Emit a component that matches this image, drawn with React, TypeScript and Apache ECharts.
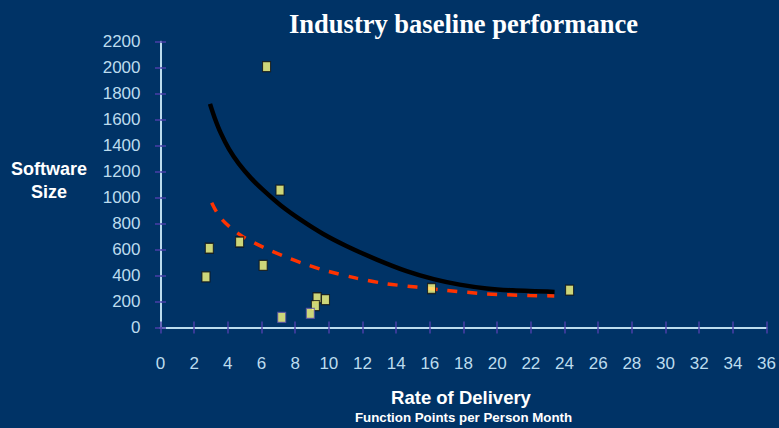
import React, { useEffect, useRef } from "react";
import * as echarts from "echarts";

const xTicks = [0, 36, 2];
const yTicks = [0, 2200, 200];

const pointX = [6.3, 7.1, 2.9, 2.7, 4.7, 6.1, 9.3, 9.8, 9.2, 8.9, 7.2, 24.3, 16.1];
const pointY = [2008, 1058, 610, 390, 658, 478, 229, 214, 168, 109, 78, 288, 300];

const industryX = [2.94, 3.23, 3.59, 4.07, 4.66, 5.36, 6.14, 7.15, 8.34, 9.64, 11.07, 12.85, 14.62, 16.23, 17.77, 19.37, 20.92, 23.41];
const industryY = [1721, 1609, 1494, 1373, 1259, 1152, 1053, 939, 828, 722, 626, 523, 434, 372, 330, 301, 286, 274];

const targetX = [3.04, 3.34, 3.69, 4.17, 4.76, 5.47, 6.3, 7.49, 8.68, 9.86, 11.64, 13.42, 15.2, 16.99, 19.36, 21.91, 23.39];
const targetY = [961, 888, 827, 768, 711, 658, 606, 540, 484, 436, 380, 337, 311, 286, 259, 246, 243];

const pairs = (xs: number[], ys: number[]) => xs.map((x, i) => [x, ys[i]]);

export default function App() {
  const ref = useRef<HTMLDivElement>(null);
  useEffect(() => {
    const chart = echarts.init(ref.current!, null, { renderer: "svg" });
    const lightEdge = new Set([9, 10]);
    const axisColor = "#bcdcee";
    const tickColor = "#4a3fa8";
    const axisCommon = {
      type: "value" as const,
      splitLine: { show: false },
    };
    chart.setOption({
      animation: false,
      backgroundColor: "#003366",
      title: {
        text: "Industry baseline performance",
        left: 458.5,
        top: 5,
        textAlign: "center",
        textStyle: { color: "#ffffff", fontFamily: "Liberation Serif", fontWeight: "bold", fontSize: 26.5 },
      },
      grid: { left: 160.5, right: 12, top: 41.7, bottom: 100.5 },
      xAxis: [
        {
          ...axisCommon,
          min: xTicks[0], max: xTicks[1], interval: xTicks[2],
          axisLine: { lineStyle: { color: axisColor, width: 2 } },
          axisTick: { show: true, length: 6, lineStyle: { color: tickColor, width: 1.5 } },
          axisLabel: { color: axisColor, fontFamily: "Liberation Sans", fontSize: 17, margin: 27 },
        },
        {
          ...axisCommon,
          position: "bottom",
          min: xTicks[0], max: xTicks[1], interval: xTicks[2],
          axisLine: { show: false },
          axisTick: { show: true, inside: true, length: 6, lineStyle: { color: tickColor, width: 1.5 } },
          axisLabel: { show: false },
        },
      ],
      yAxis: [
        {
          ...axisCommon,
          min: yTicks[0], max: yTicks[1], interval: yTicks[2],
          axisLine: { show: true, lineStyle: { color: axisColor, width: 2 } },
          axisTick: { show: true, length: 5.5, lineStyle: { color: tickColor, width: 1.5 } },
          axisLabel: { color: axisColor, fontFamily: "Liberation Sans", fontSize: 17, margin: 20, formatter: (v: number) => String(v) },
        },
        {
          ...axisCommon,
          position: "left",
          min: yTicks[0], max: yTicks[1], interval: yTicks[2],
          axisLine: { show: false },
          axisTick: { show: true, inside: true, length: 5.5, lineStyle: { color: tickColor, width: 1.5 } },
          axisLabel: { show: false },
        },
      ],
      graphic: [
        { type: "text", x: 49, y: 160, style: { text: "Software", fill: "#ffffff", font: "bold 18px 'Liberation Sans'", align: "center" } },
        { type: "text", x: 49, y: 183, style: { text: "Size", fill: "#ffffff", font: "bold 18px 'Liberation Sans'", align: "center" } },
        { type: "text", x: 461, y: 388, style: { text: "Rate of Delivery", fill: "#ffffff", font: "bold 18.5px 'Liberation Sans'", align: "center" } },
        { type: "text", x: 463.5, y: 411, style: { text: "Function Points per Person Month", fill: "#ffffff", font: "bold 13.3px 'Liberation Sans'", align: "center" } },
      ],
      series: [
        {
          type: "line",
          xAxisIndex: 0,
          yAxisIndex: 0,
          data: pairs(industryX, industryY),
          smooth: 0.3,
          symbol: "none",
          lineStyle: { color: "#000000", width: 4.5 },
          z: 2,
        },
        {
          type: "line",
          xAxisIndex: 0,
          yAxisIndex: 0,
          data: pairs(targetX, targetY),
          smooth: 0.3,
          symbol: "none",
          lineStyle: { color: "#ff3300", width: 3.5, type: [10, 10] },
          z: 2,
        },
        {
          type: "scatter",
          xAxisIndex: 0,
          yAxisIndex: 0,
          symbol: "rect",
          symbolSize: [8, 10],
          z: 3,
          data: pairs(pointX, pointY).map((p, i) => ({
            value: p,
            itemStyle: {
              color: "#ffff80",
              borderColor: lightEdge.has(i) ? "#5a4fa8" : "#111111",
              borderWidth: 1.2,
            },
          })),
        },
      ],
    });
    return () => chart.dispose();
  }, []);
  return <div ref={ref} style={{ position: "absolute", left: 0, top: 0, width: 779, height: 428 }} />;
}
